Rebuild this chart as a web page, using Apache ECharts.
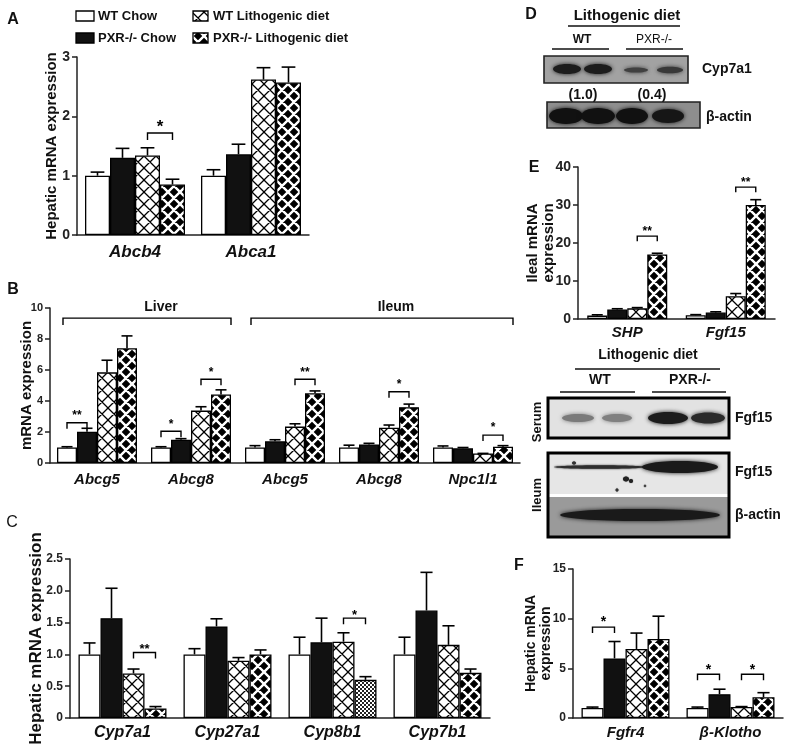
<!DOCTYPE html>
<html><head><meta charset="utf-8">
<script src="https://cdn.jsdelivr.net/npm/echarts@6/dist/echarts.min.js"></script>
<style>html,body{margin:0;padding:0;background:#fff}#c{width:800px;height:750px}</style>
</head><body><div id="c"></div>
<script>
const seriesNames = ['WT Chow', 'PXR-/- Chow', 'WT Lithogenic diet', 'PXR-/- Lithogenic diet'];

// ---- Panel A ----
const A_genes = ['Abcb4', 'Abca1'];
const A_wtChow = [1.00, 1.00], A_wtChowErr = [0.06, 0.10];
const A_koChow = [1.30, 1.36], A_koChowErr = [0.16, 0.17];
const A_wtLith = [1.34, 2.62], A_wtLithErr = [0.13, 0.20];
const A_koLith = [0.85, 2.57], A_koLithErr = [0.09, 0.26];
const A_sig = [[0, 2, 3, 1.72]], A_sigLab = ['*'];
const A_ticks = [0, 1, 2, 3];

// ---- Panel B ----
const B_genes = ['Abcg5', 'Abcg8', 'Abcg5', 'Abcg8', 'Npc1l1'];
const B_wtChow = [1.00, 1.00, 1.00, 1.00, 1.00], B_wtChowErr = [0.05, 0.05, 0.12, 0.15, 0.10];
const B_koChow = [2.02, 1.50, 1.40, 1.20, 0.95], B_koChowErr = [0.22, 0.07, 0.10, 0.07, 0.05];
const B_wtLith = [5.85, 3.38, 2.35, 2.28, 0.62], B_wtLithErr = [0.78, 0.25, 0.18, 0.17, 0.00];
const B_koLith = [7.40, 4.42, 4.50, 3.60, 1.05], B_koLithErr = [0.80, 0.30, 0.15, 0.20, 0.07];
const B_sig = [[0, 0, 1, 2.6], [1, 0, 1, 2.05], [1, 2, 3, 5.4], [2, 2, 3, 5.4], [3, 2, 3, 4.6], [4, 2, 3, 1.8]];
const B_sigLab = ['**', '*', '*', '**', '*', '*'];
const B_tissue = [[0, 1, 9.35], [2, 4, 9.35]], B_tissueLab = ['Liver', 'Ileum'];

// ---- Panel C ----
const C_genes = ['Cyp7a1', 'Cyp27a1', 'Cyp8b1', 'Cyp7b1'];
const C_wtChow = [1.00, 1.00, 1.00, 1.00], C_wtChowErr = [0.18, 0.09, 0.27, 0.27];
const C_koChow = [1.57, 1.44, 1.19, 1.69], C_koChowErr = [0.47, 0.12, 0.38, 0.60];
const C_wtLith = [0.70, 0.90, 1.20, 1.15], C_wtLithErr = [0.07, 0.05, 0.14, 0.30];
const C_koLith = [0.15, 1.00, 0.60, 0.71], C_koLithErr = [0.03, 0.07, 0.05, 0.06];
const C_sig = [[0, 2, 3, 1.03], [2, 2, 3, 1.57]], C_sigLab = ['**', '*'];

// ---- Panel E ----
const E_genes = ['SHP', 'Fgf15'];
const E_wtChow = [0.9, 1.0], E_wtChowErr = [0.2, 0.15];
const E_koChow = [2.5, 1.7], E_koChowErr = [0.2, 0.2];
const E_wtLith = [2.8, 6.0], E_wtLithErr = [0.2, 0.7];
const E_koLith = [17.0, 30.0], E_koLithErr = [0.3, 1.4];
const E_sig = [[0, 2, 3, 21.8], [1, 2, 3, 34.7]], E_sigLab = ['**', '**'];

// ---- Panel F ----
const F_genes = ['Fgfr4', '\u03b2-Klotho'];
const F_wtChow = [1.0, 1.0], F_wtChowErr = [0.1, 0.1];
const F_koChow = [6.0, 2.4], F_koChowErr = [1.7, 0.5];
const F_wtLith = [6.95, 1.1], F_wtLithErr = [1.6, 0.05];
const F_koLith = [7.95, 2.1], F_koLithErr = [2.3, 0.45];
const F_sig = [[0, 0, 1, 9.15], [1, 0, 1, 4.4], [1, 2, 3, 4.4]], F_sigLab = ['*', '*', '*'];

// ---------- rendering ----------
const FF = '"Liberation Sans", Arial, sans-serif';
function crossPat(bg, fg, lw, s) {
  const c = document.createElement('canvas'); c.width = s; c.height = s;
  const g = c.getContext('2d');
  g.fillStyle = bg; g.fillRect(0, 0, s, s);
  g.strokeStyle = fg; g.lineWidth = lw; g.beginPath();
  for (let k = -1; k <= 1; k++) {
    g.moveTo(k * s, 0); g.lineTo(k * s + s, s);
    g.moveTo(k * s, s); g.lineTo(k * s + s, 0);
  }
  g.stroke();
  return c;
}
const pWT = crossPat('#ffffff', '#000000', 1.3, 12);
const pKO = crossPat('#000000', '#ffffff', 2.4, 12);
const pDot = (() => {
  const c = document.createElement('canvas'); c.width = 4; c.height = 4;
  const g = c.getContext('2d'); g.fillStyle = '#fff'; g.fillRect(0, 0, 4, 4);
  g.fillStyle = '#222'; g.fillRect(0, 0, 2, 2); g.fillRect(2, 2, 2, 2); return c;
})();
const fills = ['#ffffff', '#111111', { image: pWT, repeat: 'repeat' }, { image: pKO, repeat: 'repeat' }];

const grids = [], xAxes = [], yAxes = [], series = [];
function addPanel(p) {
  const gi = grids.length;
  grids.push(p.grid);
  xAxes.push({
    type: 'category', gridIndex: gi, data: p.cats,
    axisTick: { show: false },
    axisLine: { lineStyle: { color: '#222', width: 1.5 } },
    axisLabel: { fontSize: p.xFont, fontWeight: 'bold', fontStyle: 'italic', color: '#111', margin: p.xMargin, interval: 0, fontFamily: FF }
  });
  yAxes.push({
    type: 'value', gridIndex: gi, min: p.min, max: p.max, interval: p.interval,
    splitLine: { show: false },
    axisLine: { show: true, lineStyle: { color: '#222', width: 1.5 } },
    axisTick: { show: true, length: 5, lineStyle: { width: 1.5, color: '#222' } },
    axisLabel: { fontSize: p.yFont, fontWeight: 'bold', color: '#222', margin: 7, fontFamily: FF, formatter: p.yFmt },
    name: p.yName, nameLocation: 'middle', nameRotate: 90, nameGap: p.nameGap, nameMoveOverlap: false,
    nameTextStyle: { fontSize: p.nameFont, fontWeight: 'bold', color: '#111', fontFamily: FF, lineHeight: p.nameFont + 1 }
  });
  p.vals.forEach((v, j) => {
    series.push({
      type: 'bar', name: seriesNames[j], xAxisIndex: gi, yAxisIndex: gi,
      data: p.itemMap ? v.map((d, i) => p.itemMap(j, i, d)) : v,
      barWidth: p.bw, barGap: '0%',
      itemStyle: { color: fills[j], borderColor: '#000', borderWidth: 1.3 }
    });
  });
  const errData = [];
  p.vals.forEach((v, j) => v.forEach((val, i) => errData.push([i, j, val, val + p.errs[j][i]])));
  series.push({
    type: 'custom', xAxisIndex: gi, yAxisIndex: gi, data: errData, z: 5, encode: { x: 0, y: 2 },
    renderItem: (params, api) => {
      const c = api.coord([api.value(0), api.value(2)]);
      const t = api.coord([api.value(0), api.value(3)]);
      const x = c[0] + (api.value(1) - 1.5) * p.bw;
      const cw = p.bw * 0.55;
      return { type: 'group', children: [
        { type: 'line', shape: { x1: x, y1: c[1], x2: x, y2: t[1] }, style: { stroke: '#000', lineWidth: 1.6 } },
        { type: 'line', shape: { x1: x - cw / 2, y1: t[1], x2: x + cw / 2, y2: t[1] }, style: { stroke: '#000', lineWidth: 1.6 } }
      ] };
    }
  });
  series.push({
    type: 'custom', xAxisIndex: gi, yAxisIndex: gi, data: p.sig, z: 6, encode: { x: 0, y: 3 },
    renderItem: (params, api) => {
      const c = api.coord([api.value(0), api.value(3)]);
      const xa = c[0] + (api.value(1) - 1.5) * p.bw, xb = c[0] + (api.value(2) - 1.5) * p.bw, y = c[1];
      return { type: 'group', children: [
        { type: 'polyline', shape: { points: [[xa, y + p.tick], [xa, y], [xb, y], [xb, y + p.tick]] }, style: { stroke: '#000', fill: null, lineWidth: 1.4 } },
        { type: 'text', x: (xa + xb) / 2, y: y - p.starOff, style: { text: p.sigLab[params.dataIndex], font: 'bold ' + p.starFont + 'px ' + FF, fill: '#000', align: 'center', verticalAlign: 'middle' } }
      ] };
    }
  });
  return gi;
}

addPanel({
  grid: { left: 77, top: 57, width: 232, height: 178 }, cats: A_genes,
  vals: [A_wtChow, A_koChow, A_wtLith, A_koLith], errs: [A_wtChowErr, A_koChowErr, A_wtLithErr, A_koLithErr],
  sig: A_sig, sigLab: A_sigLab, bw: 25, tick: 7, starFont: 17, starOff: 6,
  min: A_ticks[0], max: A_ticks[A_ticks.length - 1], interval: 1, yFont: 14, xFont: 17, xMargin: 9,
  yName: 'Hepatic mRNA expression', nameGap: 17, nameFont: 15
});
const gB = addPanel({
  grid: { left: 50, top: 308, width: 470, height: 155 }, cats: B_genes,
  vals: [B_wtChow, B_koChow, B_wtLith, B_koLith], errs: [B_wtChowErr, B_koChowErr, B_wtLithErr, B_koLithErr],
  sig: B_sig, sigLab: B_sigLab, bw: 20, tick: 6, starFont: 12, starOff: 7,
  min: 0, max: 10, interval: 2, yFont: 11, xFont: 15, xMargin: 9,
  yName: 'mRNA expression', nameGap: 15, nameFont: 15
});
addPanel({
  grid: { left: 70, top: 559, width: 420, height: 159 }, cats: C_genes,
  vals: [C_wtChow, C_koChow, C_wtLith, C_koLith], errs: [C_wtChowErr, C_koChowErr, C_wtLithErr, C_koLithErr],
  itemMap: (j, i, d) => (j === 3 && i === 2) ? { value: d, itemStyle: { color: { image: pDot, repeat: 'repeat' } } } : d,
  sig: C_sig, sigLab: C_sigLab, bw: 22, tick: 6, starFont: 13, starOff: 3,
  min: 0, max: 2.5, interval: 0.5, yFont: 12, xFont: 16, xMargin: 7,
  yFmt: v => v === 0 ? '0' : v.toFixed(1),
  yName: 'Hepatic mRNA expression', nameGap: 25, nameFont: 17
});
addPanel({
  grid: { left: 578, top: 167, width: 197, height: 152 }, cats: E_genes,
  vals: [E_wtChow, E_koChow, E_wtLith, E_koLith], errs: [E_wtChowErr, E_koChowErr, E_wtLithErr, E_koLithErr],
  sig: E_sig, sigLab: E_sigLab, bw: 20, tick: 5, starFont: 12, starOff: 4,
  min: 0, max: 40, interval: 10, yFont: 14, xFont: 15, xMargin: 6,
  yName: 'Ileal mRNA\nexpression', nameGap: 21, nameFont: 15
});
addPanel({
  grid: { left: 573, top: 569, width: 210, height: 149 }, cats: F_genes,
  vals: [F_wtChow, F_koChow, F_wtLith, F_koLith], errs: [F_wtChowErr, F_koChowErr, F_wtLithErr, F_koLithErr],
  sig: F_sig, sigLab: F_sigLab, bw: 22, tick: 6, starFont: 14, starOff: 4.5,
  min: 0, max: 15, interval: 5, yFont: 12, xFont: 15, xMargin: 7,
  yName: 'Hepatic mRNA\nexpression', nameGap: 19, nameFont: 14
});

// Liver / Ileum tissue brackets in panel B
series.push({
  type: 'custom', xAxisIndex: gB, yAxisIndex: gB, data: B_tissue, encode: { x: 0, y: 2 },
  renderItem: (params, api) => {
    const a = api.coord([api.value(0), api.value(2)]);
    const b = api.coord([api.value(1), api.value(2)]);
    const xa = a[0] - 34, xb = b[0] + 40, y = a[1];
    return { type: 'group', children: [
      { type: 'polyline', shape: { points: [[xa, y + 7], [xa, y], [xb, y], [xb, y + 7]] }, style: { stroke: '#000', fill: null, lineWidth: 1.4 } },
      { type: 'text', x: (xa + xb) / 2 + 14, y: y - 11, style: { text: B_tissueLab[params.dataIndex], font: 'bold 14px ' + FF, fill: '#111', align: 'center', verticalAlign: 'middle' } }
    ] };
  }
});

// ---------- graphic (legend, letters, blots) ----------
function txt(t, x, y, size, opts) {
  opts = opts || {};
  return { type: 'text', x: x, y: y, rotation: opts.rot || 0, z: 10,
    style: { text: t, font: (opts.weight || 'bold') + ' ' + size + 'px ' + FF, fill: opts.fill || '#111', align: opts.align || 'center', verticalAlign: 'middle' } };
}
function hline(x1, x2, y, w) { return { type: 'line', z: 10, shape: { x1: x1, y1: y, x2: x2, y2: y }, style: { stroke: '#111', lineWidth: w || 1.5 } }; }
function band(cx, cy, rx, ry, col, blur) { return { type: 'ellipse', z: 11, shape: { cx: cx, cy: cy, rx: rx, ry: ry }, style: { fill: col, shadowBlur: blur == null ? 4 : blur, shadowColor: col } }; }
function box(x, y, w, h, fill, stroke, lw, z) { return { type: 'rect', z: z || 10, shape: { x: x, y: y, width: w, height: h }, style: { fill: fill, stroke: stroke || null, lineWidth: lw || 0 } }; }

const g = [];
// legend
g.push(box(76, 11, 18, 10, '#fff', '#000', 1.3));
g.push(box(76, 33, 18, 10, '#111', '#000', 1.3));
g.push(box(193, 11, 15, 10, { image: pWT, repeat: 'repeat' }, '#000', 1.3));
g.push(box(193, 33, 15, 10, { image: pKO, repeat: 'repeat' }, '#000', 1.3));
g.push(txt(seriesNames[0], 98, 16, 13, { align: 'left' }));
g.push(txt(seriesNames[1], 98, 38, 13, { align: 'left' }));
g.push(txt(seriesNames[2], 213, 16, 13, { align: 'left' }));
g.push(txt(seriesNames[3], 213, 38, 13, { align: 'left' }));
// panel letters
g.push(txt('A', 13, 20, 16));
g.push(txt('B', 13, 290, 16));
g.push(txt('C', 12, 523, 16, { weight: 'normal' }));
g.push(txt('D', 531, 15, 16));
g.push(txt('E', 534, 168, 16));
g.push(txt('F', 519, 566, 16));

// Panel D blots
g.push(txt('Lithogenic diet', 627, 16, 15));
g.push(hline(568, 680, 26));
g.push(txt('WT', 582, 40, 12));
g.push(hline(552, 609, 49));
g.push(txt('PXR-/-', 654, 40, 12, { weight: 'normal' }));
g.push(hline(626, 683, 49));
g.push(box(544, 56, 144, 27, '#a2a2a2', null, 0, 9));
g.push(band(567, 69, 14, 5, '#1c1c1c'));
g.push(band(598, 69, 14, 5, '#1c1c1c'));
g.push(band(636, 70, 12, 2.6, '#404040'));
g.push(band(670, 70, 13, 3.2, '#383838'));
g.push(box(544, 56, 144, 27, null, '#222', 1.6, 12));
g.push(txt('Cyp7a1', 702, 69, 14, { align: 'left' }));
g.push(txt('(1.0)', 583, 95, 14));
g.push(txt('(0.4)', 652, 95, 14));
g.push(box(547, 102, 153, 26, '#8e8e8e', null, 0, 9));
g.push(band(566, 116, 17, 8, '#111'));
g.push(band(598, 116, 17, 8, '#111'));
g.push(band(632, 116, 16, 8, '#111'));
g.push(band(668, 116, 16, 7, '#161616'));
g.push(box(547, 102, 153, 26, null, '#222', 1.6, 12));
g.push(txt('\u03b2-actin', 706, 117, 14, { align: 'left' }));

// Fgf15 blots
g.push(txt('Lithogenic diet', 648, 355, 14));
g.push(hline(575, 720, 369));
g.push(txt('WT', 600, 380, 14));
g.push(hline(560, 635, 392));
g.push(txt('PXR-/-', 690, 380, 14));
g.push(hline(652, 726, 392));
g.push(box(548, 398, 181, 40, '#e2e2e2', null, 0, 9));
g.push(band(578, 418, 16, 4, '#7a7a7a'));
g.push(band(617, 418, 15, 4, '#808080'));
g.push(band(668, 418, 20, 6, '#1c1c1c'));
g.push(band(708, 418, 17, 5.5, '#2a2a2a'));
g.push(box(548, 398, 181, 40, null, '#000', 3, 12));
g.push(txt('Fgf15', 735, 418, 14, { align: 'left' }));
g.push(txt('Serum', 537, 422, 13, { rot: Math.PI / 2 }));
g.push(box(548, 453, 181, 41, '#e6e6e6', null, 0, 9));
g.push(box(548, 494, 181, 3, '#ffffff', null, 0, 9));
g.push(box(548, 497, 181, 40, '#9a9a9a', null, 0, 9));
g.push(band(600, 467, 46, 1.8, '#2e2e2e', 2));
g.push(band(680, 467, 38, 6, '#1a1a1a'));
g.push(band(626, 479, 3, 2.5, '#222', 1));
g.push(band(631, 481, 2, 2, '#222', 1));
g.push(band(617, 490, 1.5, 1.5, '#333', 1));
g.push(band(645, 486, 1.2, 1.2, '#444', 1));
g.push(band(574, 463, 2, 1.5, '#333', 1));
g.push(band(640, 515, 80, 6, '#1a1a1a'));
g.push(box(548, 453, 181, 84, null, '#000', 3, 12));
g.push(txt('Fgf15', 735, 472, 14, { align: 'left' }));
g.push(txt('\u03b2-actin', 735, 515, 14, { align: 'left' }));
g.push(txt('Ileum', 537, 495, 13, { rot: Math.PI / 2 }));

const chart = echarts.init(document.getElementById('c'));
chart.setOption({
  animation: false,
  textStyle: { fontFamily: FF },
  grid: grids, xAxis: xAxes, yAxis: yAxes, series: series,
  graphic: g
});
</script></body></html>
